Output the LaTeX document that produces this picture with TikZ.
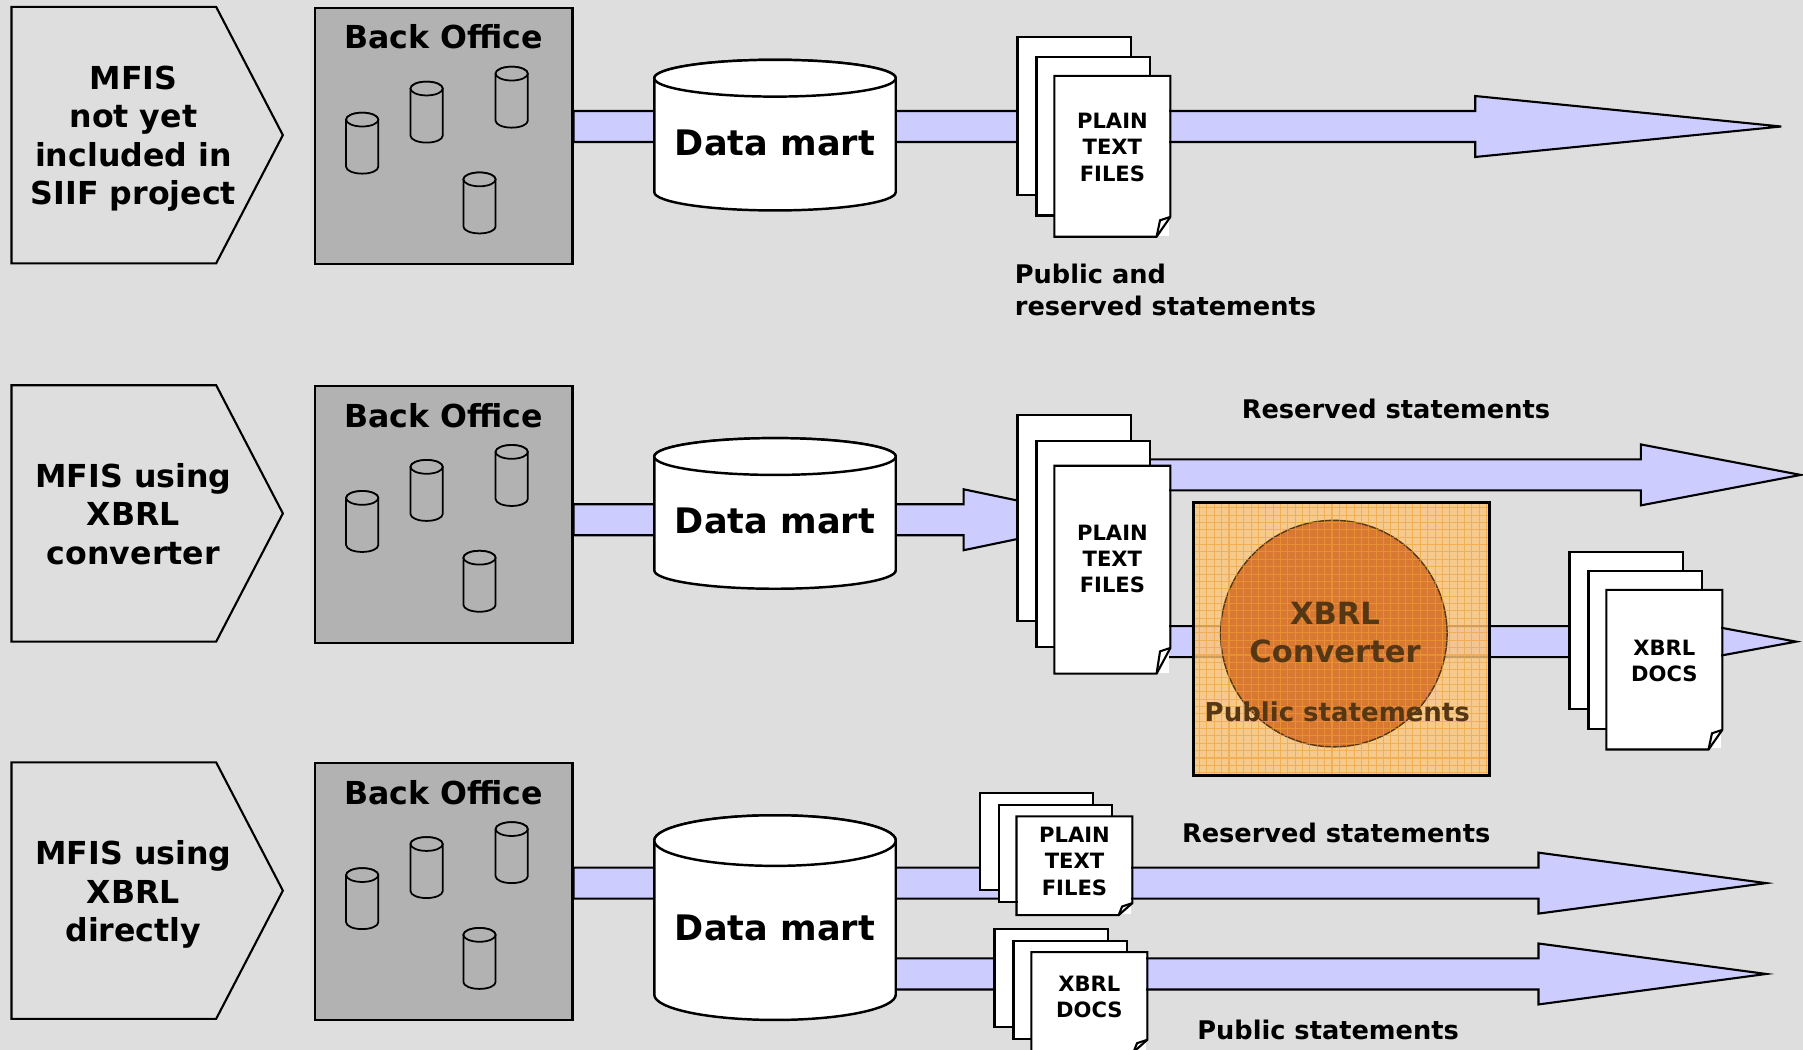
\documentclass[tikz,border=0pt]{standalone}
\usepackage{fontspec}
\setmainfont{DejaVu Sans}
\usetikzlibrary{calc, positioning}

\definecolor{bggray}{RGB}{222,222,222}
\definecolor{bogray}{RGB}{178,178,178}
\definecolor{bandblue}{RGB}{204,204,255}
\definecolor{convbg}{RGB}{252,196,120}
\definecolor{convgrid}{RGB}{240,160,50}
\definecolor{convdisc}{RGB}{216,120,50}
\definecolor{convtext}{RGB}{85,55,20}

\newlength{\px}
\setlength{\px}{0.115mm}
\newlength{\shaft}
\setlength{\shaft}{13.5\px}
\newlength{\head}
\setlength{\head}{26.5\px}

\pgfdeclarelayer{back}
\pgfdeclarelayer{bands}
\pgfsetlayers{back,bands,main}

\tikzset{
  chev/.style={draw, fill=bggray, line width=0.6pt},
  office/.style={draw, fill=bogray, line width=0.6pt, anchor=north west, inner sep=0pt,
    minimum width=224\px, minimum height=223\px},
  minidb/.style={draw, fill=bogray, line width=0.5pt},
  mart/.style={draw, fill=white, line width=0.7pt},
  page/.style={draw, fill=white, line width=0.6pt, anchor=north west, inner sep=0pt,
    minimum width=99\px},
  pageline/.style={draw, line width=0.6pt},
  band/.style={draw, fill=bandblue, line width=0.6pt},
  rowtext/.style={font=\bfseries\fontsize{9}{10.9}\selectfont, align=center, inner sep=0pt},
  botitle/.style={font=\bfseries\fontsize{9}{10.9}\selectfont, inner sep=0pt},
  marttext/.style={font=\bfseries\fontsize{10}{12}\selectfont, inner sep=0pt},
  doctext/.style={font=\bfseries\fontsize{6}{7.5}\selectfont, align=center, inner sep=0pt},
  stmt/.style={font=\bfseries\fontsize{7.3}{9.1}\selectfont, inner sep=0pt},
  convbox/.style={fill=convbg, fill opacity=0.8, anchor=north west, inner sep=0pt,
    minimum width=256\px, minimum height=236\px},
  convdisc/.style={circle, fill=convdisc, draw=convtext, line width=0.4pt, inner sep=0pt,
    minimum size=197\px},
  convlines/.style={draw=convgrid, line width=0.3pt, opacity=0.6},
  convlabel/.style={font=\bfseries\fontsize{8.7}{10.8}\selectfont, text=convtext,
    align=center, inner sep=0pt}
}

% cylinder: style, centre x, top y, width, height, y radius
\newcommand{\dbcyl}[6]{%
  \filldraw[#1] ({#2-#4/2},{#3+#6}) -- ({#2-#4/2},{#3+#5-#6})
    arc[start angle=180, end angle=360, x radius=#4/2*\px, y radius=#6*\px]
    -- ({#2+#4/2},{#3+#6})
    arc[start angle=0, end angle=180, x radius=#4/2*\px, y radius=#6*\px] -- cycle;
  \draw[#1] (#2,{#3+#6}) ellipse[x radius=#4/2*\px, y radius=#6*\px];}

% stack of three pages: name, x, y, height, step down, text, text y
\newcommand{\docstack}[7]{%
  \node[page, minimum height=#4\px] (#1a) at (#2,#3) {};
  \node[page, minimum height=#4\px, below right=#5\px and 16.5\px of #1a.north west] (#1b) {};
  \node[page, draw=none, minimum height=#4\px, below right=#5\px and 16.5\px of #1b.north west] (#1c) {};
  \draw[pageline] (#1c.north west) -- (#1c.north east) -- ([yshift=0.125*#4*\px]#1c.south east)
    -- ([xshift=-12\px]#1c.south east) -- (#1c.south west) -- cycle;
  \draw[pageline] ([yshift=0.125*#4*\px]#1c.south east)
    -- ([xshift=-9\px, yshift=(0.125*#4-3)*\px]#1c.south east) -- ([xshift=-12\px]#1c.south east);
  \node[doctext] (#1t) at (#1c.center |- 0,#7) {#6};}

% block arrow: from, head base x, tip
\newcommand{\flowarrow}[3]{%
  \filldraw[band] let \p1=(#1), \p2=(#3), \p3=(#2,0) in
    (\x1,\y2+\shaft) -- (\x3,\y2+\shaft) -- (\x3,\y2+\head) -- (\x2,\y2)
    -- (\x3,\y2-\head) -- (\x3,\y2-\shaft) -- (\x1,\y2-\shaft) -- cycle;}

\begin{document}
\begin{tikzpicture}[x=0.115mm, y=-0.115mm]
  \useasboundingbox (0,0) rectangle (1568,913);
  \begin{pgfonlayer}{back}
    \fill[bggray] (0,0) rectangle (1568,913);
  \end{pgfonlayer}

  % three rows: chevron, back office with its databases
  \foreach \o/\i in {0/1,329/2,657/3}{
    \draw[chev, shift={(0,\o)}] (10,6) -- (188,6) -- (246,117.5) -- (188,229) -- (10,229) -- cycle;
    \node[office] (bo\i) at (273,{6+\o}) {};
    \node[botitle, below=4.9pt of bo\i.north] (bt\i) {Back Office};
    \begin{scope}[shift={(0,\o)}]
      \dbcyl{minidb}{315}{98}{28}{53}{6}
      \dbcyl{minidb}{371}{71}{28}{53}{6}
      \dbcyl{minidb}{445}{58}{28}{53}{6}
      \dbcyl{minidb}{417}{150}{28}{53}{6}
    \end{scope}
  }
  \node[rowtext] (mf1) at (116,120.5) {MFIS\\not yet\\included in\\SIIF project};
  \node[rowtext] (mf2) at (116,447) {MFIS using\\XBRL\\converter};
  \node[rowtext] (mf3) at (116,778) {MFIS using\\XBRL\\directly};

  % data marts
  \dbcyl{mart}{674}{52}{210}{131}{16}
  \node[marttext] (dm1) at (674,124) {Data mart};
  \dbcyl{mart}{674}{381}{210}{131}{16}
  \node[marttext] (dm2) at (674,453) {Data mart};
  \dbcyl{mart}{674}{709}{210}{178}{22}
  \node[marttext] (dm3) at (674,807) {Data mart};

  % documents
  \docstack{pt1}{884}{31}{138}{17.5}{PLAIN\\TEXT\\FILES}{128}
  \docstack{pt2}{884}{360}{179}{22.5}{PLAIN\\TEXT\\FILES}{486}
  \docstack{xd2}{1364}{479}{137}{17}{XBRL\\DOCS}{575}
  \docstack{pt3}{851}{689}{84}{10.5}{PLAIN\\TEXT\\FILES}{749}
  \docstack{xd3}{864}{807}{85}{10.5}{XBRL\\DOCS}{867}

  % converter
  \node[convbox] (conv) at (1038,437) {};
  \node[convdisc] (convc) at (1160,551) {};
  \begin{scope}
    \clip (conv.north west) rectangle (conv.south east);
    \draw[convlines] (conv.north west) grid[step=6.4\px] (conv.south east);
  \end{scope}
  \draw[line width=0.7pt] (conv.north west) rectangle (conv.south east);
  \node[convlabel] (convt) at (1161,550) {XBRL\\Converter};
  \node[convlabel, font=\bfseries\fontsize{7.4}{9}\selectfont] (pub2) at (1163,619) {Public statements};

  % statements
  \node[stmt, anchor=west, align=left] (pr1) at (882,252) {Public and\\reserved statements};
  \node[stmt] (res2) at (1214,356) {Reserved statements};
  \node[stmt] (res3) at (1162,724) {Reserved statements};
  \node[stmt] (pub3) at (1155,896) {Public statements};

  % flows
  \coordinate (tip1) at (1549,110);
  \coordinate (tip2a) at (965,452);
  \coordinate (tip2b) at (1566,413);
  \coordinate (tip2c) at (1562,558);
  \coordinate (tip3a) at (1536,768);
  \coordinate (tip3b) at (1536,847);
  \begin{pgfonlayer}{bands}
    \flowarrow{bo1.east}{1283}{tip1}
    \flowarrow{bo2.east}{838}{tip2a}
    \flowarrow{pt2b}{1427}{tip2b}
    \flowarrow{pt2b}{1419}{tip2c}
    \flowarrow{bo3.east}{1338}{tip3a}
    \flowarrow{dm3}{1338}{tip3b}
  \end{pgfonlayer}
\end{tikzpicture}
\end{document}
